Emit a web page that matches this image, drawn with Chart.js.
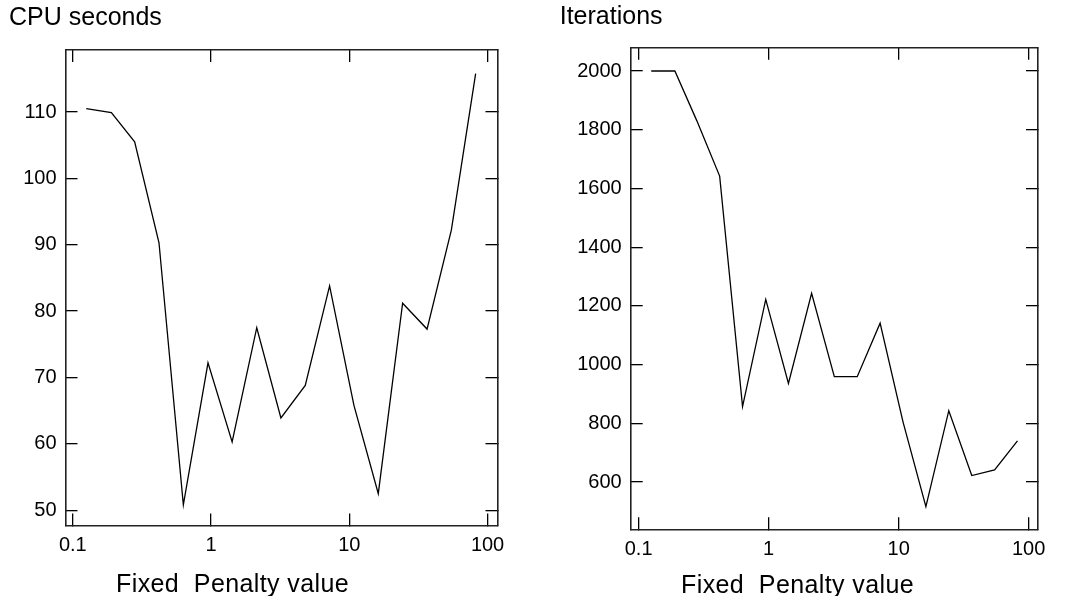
<!DOCTYPE html>
<html>
<head>
<meta charset="utf-8">
<script src="https://cdn.jsdelivr.net/npm/chart.js@4.4.1/dist/chart.umd.min.js"></script>
<style>
  html, body { margin: 0; padding: 0; background: #fff; }
  body { width: 1066px; height: 596px; position: relative; overflow: hidden; }
  canvas { position: absolute; top: 0; }
  #cpuChart { left: 0; }
  #iterChart { left: 530px; }
  .xtitle {
    position: absolute; font-family: 'Liberation Sans', Arial, sans-serif;
    font-size: 25px; line-height: 25px; letter-spacing: 0.4px; color: #000; white-space: pre;
  }
</style>
</head>
<body>
<canvas id="cpuChart" width="530" height="596"></canvas>
<canvas id="iterChart" width="536" height="596"></canvas>
<div class="xtitle" style="left:116px; top:571px;">Fixed  Penalty value</div>
<div class="xtitle" style="left:681px; top:572px;">Fixed  Penalty value</div>
<script>
  // values
  const penaltyValues = [0.125, 0.19, 0.28, 0.42, 0.63, 0.95, 1.42, 2.14, 3.2, 4.8, 7.2, 10.8, 16.2, 24.3, 36.5, 54.7, 82];
  const cpuSeconds = [110.5, 109.9, 105.5, 90.3, 50.8, 72.2, 60.3, 77.5, 63.9, 68.8, 83.8, 65.8, 52.5, 81.2, 77.3, 92.2, 115.8];
  const iterations = [2000, 2000, 1831, 1642, 857, 1222, 936, 1243, 959, 959, 1141, 805, 516, 843, 622, 641, 740];

  // tick labels
  const xTicks = [0.1, 1, 10, 100];
  const cpuTicks = [50, 60, 70, 80, 90, 100, 110];
  const iterTicks = [600, 800, 1000, 1200, 1400, 1600, 1800, 2000];

  const FONT = "'Liberation Sans', Arial, sans-serif";
  Chart.defaults.font.family = FONT;
  Chart.defaults.color = '#000';

  const setTicks = list => scale => { scale.ticks = list.map(v => ({ value: v })); };

  function makeChart(id, title, values, yTicks, box) {
    const grid = {
      display: true, drawOnChartArea: false, drawTicks: true,
      tickLength: -12, color: '#000', lineWidth: 1.3
    };
    const border = { display: true, color: '#222', width: 1.6 };

    return new Chart(document.getElementById(id), {
      type: 'line',
      data: {
        datasets: [{
          data: penaltyValues.map((x, i) => ({ x: x, y: values[i] })),
          borderColor: '#000',
          borderWidth: 1.3,
          pointRadius: 0,
          tension: 0,
          fill: false
        }]
      },
      options: {
        responsive: false,
        animation: false,
        devicePixelRatio: 1,
        layout: { padding: { left: box.padLeft, right: box.padRight, top: box.padTop, bottom: 0 } },
        plugins: {
          legend: { display: false },
          tooltip: { enabled: false },
          title: {
            display: true, text: title, align: 'start', color: '#000',
            font: { size: 25, weight: 'normal' },
            padding: { top: 0, bottom: box.titleGap }
          }
        },
        scales: {
          x: {
            type: 'logarithmic', position: 'bottom',
            min: box.xMin, max: box.xMax,
            afterBuildTicks: setTicks(xTicks),
            afterFit: s => { s.height = box.xHeight; },
            ticks: { font: { size: 20 }, padding: 20, maxRotation: 0, autoSkip: false, callback: v => String(v) },
            grid: grid, border: border
          },
          x2: {
            type: 'logarithmic', position: 'top',
            min: box.xMin, max: box.xMax,
            afterBuildTicks: setTicks(xTicks),
            afterFit: s => { s.height = 0; },
            ticks: { display: false },
            grid: grid, border: border
          },
          y: {
            type: 'linear', position: 'left',
            min: box.yMin, max: box.yMax,
            afterBuildTicks: setTicks(yTicks),
            afterFit: s => { s.width = box.yWidth; },
            ticks: { font: { size: 20 }, padding: 21, autoSkip: false, callback: v => String(v) },
            grid: grid, border: border
          },
          y2: {
            type: 'linear', position: 'right',
            min: box.yMin, max: box.yMax,
            afterBuildTicks: setTicks(yTicks),
            afterFit: s => { s.width = 0; },
            ticks: { display: false },
            grid: grid, border: border
          }
        }
      }
    });
  }

  makeChart('cpuChart', 'CPU seconds', cpuSeconds, cpuTicks, {
    padLeft: 9, padRight: 32.5, padTop: 3.5, titleGap: 16.5,
    yWidth: 56.5, xHeight: 70.5,
    xMin: 0.0885, xMax: 118, yMin: 47.7, yMax: 119.35
  });

  makeChart('iterChart', 'Iterations', iterations, iterTicks, {
    padLeft: 29.7, padRight: 25.3, padTop: 1.8, titleGap: 15.9,
    yWidth: 71, xHeight: 66.7,
    xMin: 0.0869, xMax: 118, yMin: 439, yMax: 2079.4
  });
</script>
</body>
</html>
